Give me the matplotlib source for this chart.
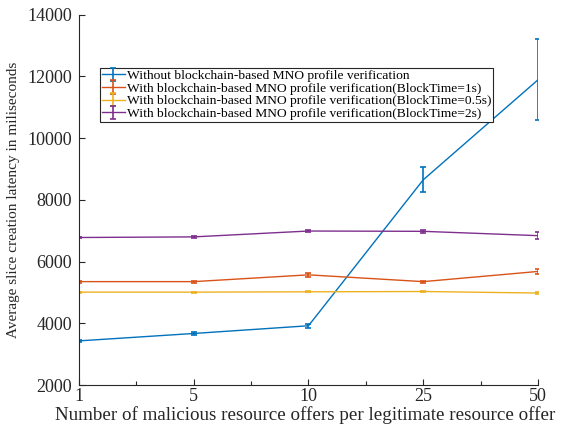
import matplotlib
matplotlib.use('Agg')
import matplotlib.pyplot as plt

# x positions are categorical (1, 5, 10, 25, 50 equally spaced)
x_labels = ['1', '5', '10', '25', '50']
x_pos = [0, 1, 2, 3, 4]

no_chain = [3430, 3670, 3920, 8650, 11890]
no_chain_err = [40, 50, 60, 400, 1310]
bt_1s = [5350, 5350, 5570, 5350, 5680]
bt_1s_err = [30, 30, 70, 30, 70]
bt_05s = [5010, 5010, 5020, 5030, 4980]
bt_05s_err = [20, 20, 20, 20, 20]
bt_2s = [6780, 6800, 6990, 6980, 6840]
bt_2s_err = [30, 40, 40, 50, 110]

series = [
    (no_chain, no_chain_err, '#0072BD', 'Without blockchain-based MNO profile verification'),
    (bt_1s, bt_1s_err, '#D95319', 'With blockchain-based MNO profile verification(BlockTime=1s)'),
    (bt_05s, bt_05s_err, '#EDB120', 'With blockchain-based MNO profile verification(BlockTime=0.5s)'),
    (bt_2s, bt_2s_err, '#7E2F8E', 'With blockchain-based MNO profile verification(BlockTime=2s)'),
]

plt.rcParams['font.family'] = 'Liberation Serif'

fig = plt.figure(figsize=(5.61, 4.25), dpi=100)
ax = fig.add_axes([0.1408, 0.0941, 0.8182, 0.8713])

for vals, err, col, lab in series:
    ax.errorbar(x_pos, vals, yerr=err, color=col, lw=1, elinewidth=1.2, capsize=2.5, capthick=1.2, label=lab)

ax.set_xlim(0, 4)
ax.set_ylim(2000, 14000)
ax.set_xticks(x_pos)
ax.set_xticklabels(x_labels)
ax.set_xticks([0.5, 1.5, 2.5, 3.5], minor=True)
ax.set_yticks(range(2000, 14001, 2000))
ax.tick_params(direction='in', labelsize=13, length=4, width=0.8, colors='#262626', labelcolor='#262626')
ax.tick_params(which='minor', direction='in', length=3, width=0.8, colors='#262626')
ax.tick_params(axis='x', pad=2)
ax.tick_params(axis='y', pad=5)
for s in ['top', 'right']:
    ax.spines[s].set_visible(False)
for s in ['left', 'bottom']:
    ax.spines[s].set_color('#262626')
    ax.spines[s].set_linewidth(0.8)

ax.set_xlabel('Number of malicious resource offers per legitimate resource offer', fontsize=13.7, labelpad=0,
              color='#262626')
ax.xaxis.set_label_coords(0.492, -0.058)
ax.set_ylabel('Average slice creation latency in miliseconds', fontsize=11, labelpad=5, color='#262626')

leg = ax.legend(loc='upper left', bbox_to_anchor=(0.0458, 0.856), fontsize=9.7, frameon=True, fancybox=False,
                handlelength=1.7, handletextpad=0.15, borderpad=0.12, labelspacing=0.02, borderaxespad=0,
                framealpha=1)
leg.get_frame().set_edgecolor('#262626')
leg.get_frame().set_linewidth(0.8)

plt.savefig('out.png', dpi=100)
